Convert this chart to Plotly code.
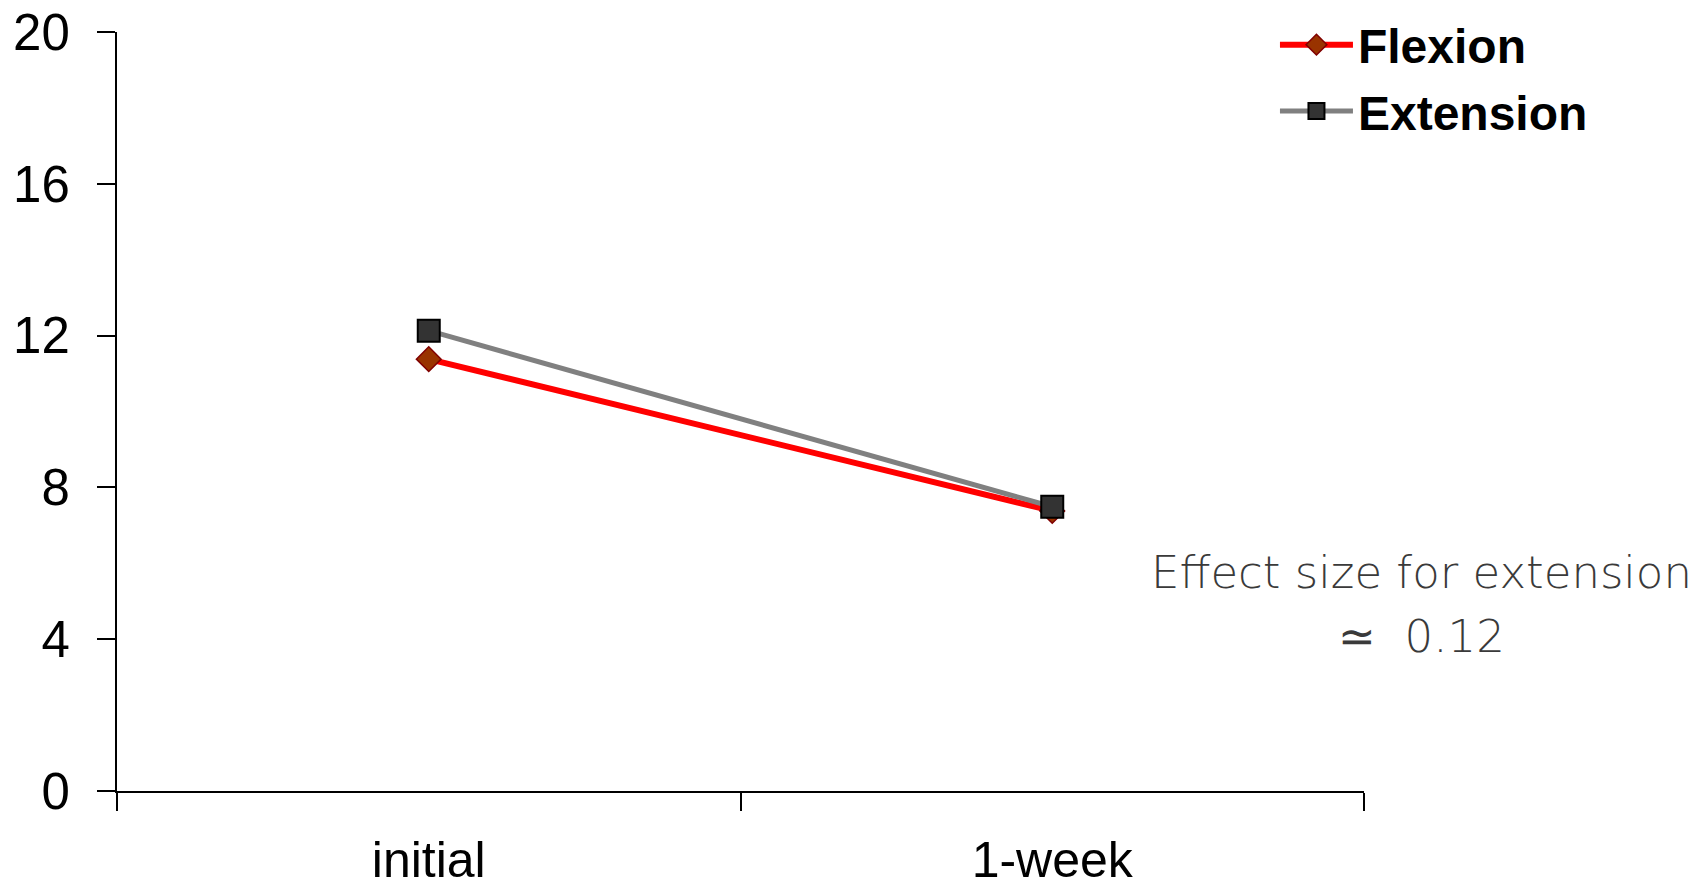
import plotly.graph_objects as go

categories = ["initial", "1-week"]
flexion = [11.38, 7.38]
extension = [12.13, 7.49]
y_ticks = [0, 4, 8, 12, 16, 20]
annotation_line1 = "Effect size for extension"
annotation_line2 = "\u2243  0.12"

fig = go.Figure()
fig.add_trace(go.Scatter(
    x=categories, y=flexion, name="Flexion", mode="lines+markers",
    line=dict(color="#FF0000", width=6),
    marker=dict(symbol="diamond", size=19, color="#993300",
                line=dict(color="#800000", width=1.5)),
    legendgroup="a",
))
fig.add_trace(go.Scatter(
    x=categories, y=extension, name="Extension", mode="lines+markers",
    line=dict(color="#808080", width=5),
    marker=dict(symbol="square", size=22, color="#333333",
                line=dict(color="#000000", width=2)),
    legendgroup="b",
))

fig.update_layout(
    width=1703, height=888,
    margin=dict(l=117, r=339, t=32, b=97, autoexpand=False),
    paper_bgcolor="white", plot_bgcolor="white",
    font=dict(family="Liberation Sans, Arial, sans-serif", color="black"),
    showlegend=True,
    legend=dict(
        x=0.9286, xanchor="left", y=1.033, yanchor="top",
        xref="paper", yref="paper",
        font=dict(size=48, family="Liberation Sans, Arial, sans-serif",
                  color="black", weight="bold"),
        itemwidth=73, tracegroupgap=1,
        bgcolor="rgba(0,0,0,0)",
    ),
    xaxis=dict(
        type="category", range=[-0.5, 1.5],
        showline=True, linecolor="black", linewidth=2,
        ticks="outside", ticklen=18, tickwidth=1.5, tickcolor="black",
        tickson="boundaries", showgrid=False, zeroline=False,
        tickfont=dict(size=50, color="black"),
        ticklabelstandoff=24,
    ),
    yaxis=dict(
        range=[0, 20], tickvals=y_ticks,
        showline=True, linecolor="black", linewidth=2,
        ticks="outside", ticklen=18, tickwidth=2, tickcolor="black",
        showgrid=False, zeroline=False,
        tickfont=dict(size=51, color="black"),
        ticklabelstandoff=17,
    ),
)

ann_font = dict(size=45, family="DejaVu Sans, sans-serif", color="#3a3a3a", weight=300)
fig.add_annotation(
    xref="paper", yref="paper", x=1.0465, y=0.2885,
    xanchor="center", yanchor="middle", align="center",
    text=annotation_line1, showarrow=False, font=ann_font,
)
fig.add_annotation(
    xref="paper", yref="paper", x=1.0465, y=0.2036,
    xanchor="center", yanchor="middle", align="center",
    text=annotation_line2, showarrow=False, font=ann_font,
)

fig.write_html(
    "out.html",
    config={"displayModeBar": False},
    post_script="document.body.style.margin='0';document.body.style.overflow='hidden';",
)
